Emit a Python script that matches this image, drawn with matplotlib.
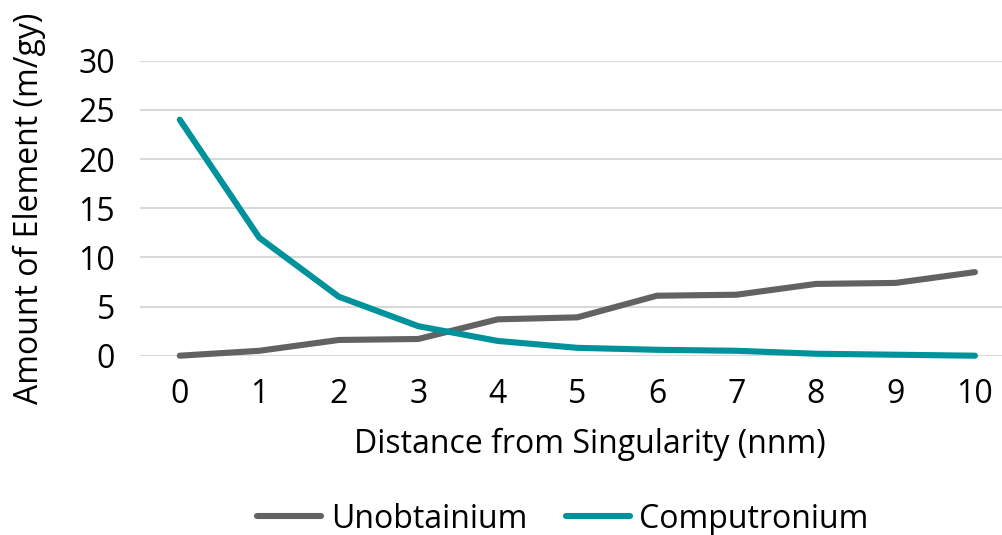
import matplotlib

matplotlib.use("Agg")
import matplotlib.pyplot as plt

plt.rcParams["font.family"] = ["Open Sans", "DejaVu Sans"]

# distance from singularity (nnm)
distance = [0, 1, 2, 3, 4, 5, 6, 7, 8, 9, 10]
unobtainium = [0, 0.5, 1.6, 1.7, 3.7, 3.9, 6.1, 6.2, 7.3, 7.4, 8.5]
computronium = [24, 12, 6, 3, 1.5, 0.8, 0.6, 0.5, 0.2, 0.1, 0]
y_ticks = [0, 5, 10, 15, 20, 25, 30]

GRAY = "#626262"
TEAL = "#00929a"
W, H = 1002, 535
FS = 23

fig = plt.figure(figsize=(W / 100, H / 100), dpi=100)
ax = fig.add_axes([140 / W, 1 - 355.7 / H, (W - 140) / W, (355.7 - 60.7) / H])

ax.plot(distance, unobtainium, color=GRAY, lw=4.4, solid_capstyle="round",
        label="Unobtainium", zorder=3, clip_on=False)
ax.plot(distance, computronium, color=TEAL, lw=4.4, solid_capstyle="round",
        label="Computronium", zorder=3, clip_on=False)

ax.set_xlim(-0.5, 10.34)
ax.set_ylim(0, 30)
ax.set_xticks(distance)
ax.set_yticks(y_ticks)
ax.tick_params(length=0, labelsize=FS, colors="#000000")
ax.tick_params(axis="x", pad=16)
ax.tick_params(axis="y", pad=18)
ax.grid(axis="y", color="#d9d9d9", lw=1.5)
ax.set_axisbelow(True)
for s in ax.spines.values():
    s.set_visible(False)

ax.set_xlabel("Distance from Singularity (nnm)", fontsize=FS, labelpad=12)
ax.xaxis.label.set_x((590 - 140) / (W - 140))
ax.set_ylabel("Amount of Element (m/gy)", fontsize=FS, labelpad=23)

fig.legend(loc="center", bbox_to_anchor=(563 / W, 1 - 519 / H), ncol=2,
           frameon=False, fontsize=FS, handlelength=2.0, columnspacing=1.2,
           handletextpad=0.3)

fig.savefig("out.png", dpi=100)
